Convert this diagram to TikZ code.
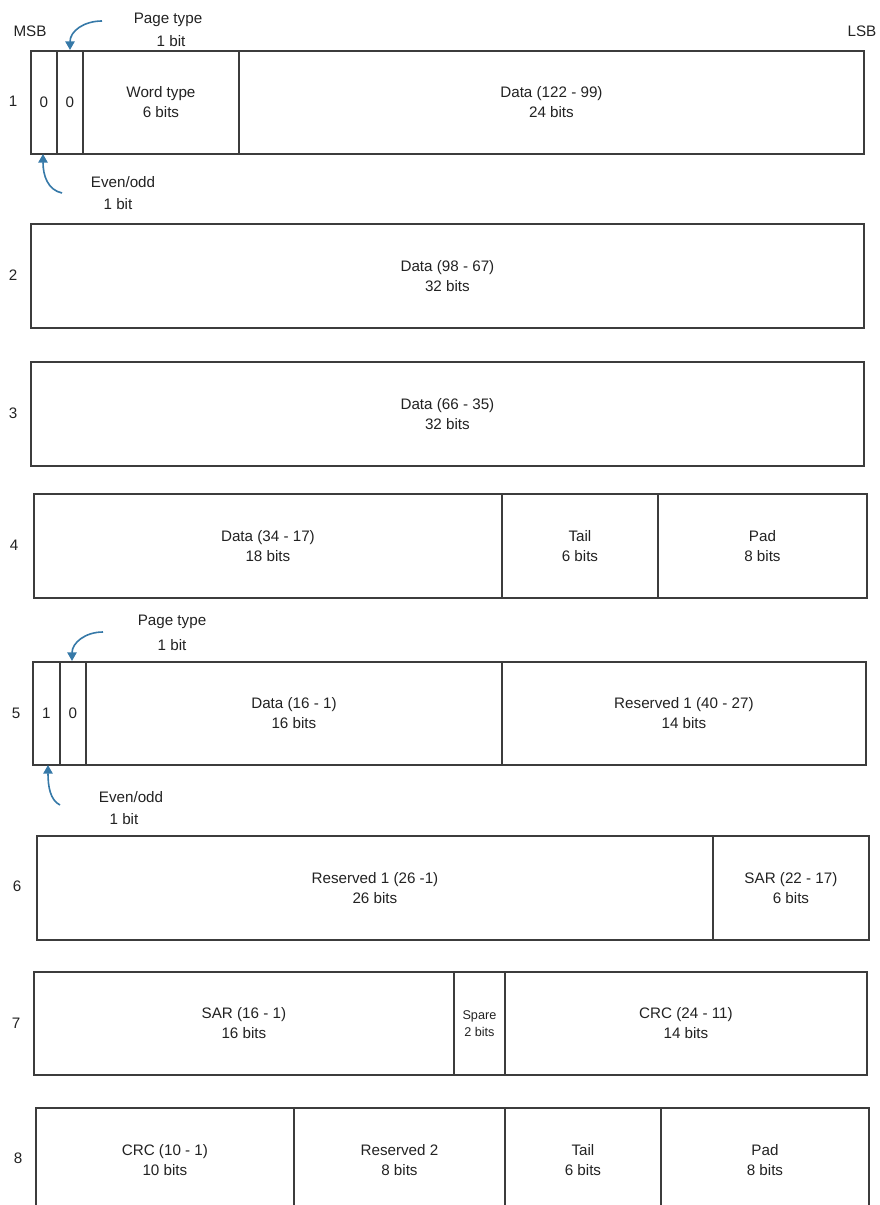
\documentclass[tikz,border=0pt]{standalone}
\usepackage{fontspec}
\setmainfont{Liberation Sans}
\usetikzlibrary{arrows.meta}
\definecolor{linecol}{HTML}{3C3C3C}
\definecolor{txtcol}{HTML}{222222}
\definecolor{arrcol}{HTML}{3679A8}
\tikzset{
  cellbox/.style={draw=linecol, line width=1.4pt, inner sep=0pt, anchor=north west, align=center, text=txtcol, font=\fontsize{11.4}{15}\selectfont},
  lbl/.style={inner sep=0pt, text=txtcol, font=\fontsize{11.4}{15}\selectfont, align=center},
  arr/.style={draw=arrcol, line width=1.2pt, -{Triangle[length=6.5pt,width=7pt]}, arrcol}
}
\newcommand\cell[6]{\node[cellbox, minimum width={(#4-#2)*0.75pt}, minimum height={(#5-#3)*0.75pt}] (#1) at (#2,#3) {#6};}
\begin{document}
\begin{tikzpicture}[x=0.75pt,y=-0.75pt]
\useasboundingbox (0,0) rectangle (880,1205);
% header
\node[lbl] (msb) at (30,31) {MSB};
\node[lbl] (lsb) at (862,31) {LSB};
\node[lbl] (pt1) at (168,20) {Page type};
\node[lbl] (pt1b) at (171,41) {1 bit};
\node[lbl] (eo1) at (123,182) {Even/odd};
\node[lbl] (eo1b) at (118,204) {1 bit};
% row 1
\node[lbl] (r1) at (13,101) {1};
\cell{r1a}{30}{50}{56}{153}{0}
\cell{r1b}{56}{50}{82}{153}{0}
\cell{r1c}{82}{50}{238}{153}{Word type\\6 bits}
\cell{r1d}{238}{50}{863}{153}{Data (122 - 99)\\24 bits}
\coordinate (pt1s) at (102,21);
\coordinate (pt1e) at (70,50);
\draw[arr] (pt1s) .. controls (84,21) and (70,31) .. (pt1e);
\coordinate (eo1s) at (62,193);
\coordinate (eo1e) at (43,154);
\draw[arr] (eo1s) .. controls (48,190) and (43,176) .. (eo1e);
% row 2
\node[lbl] (r2) at (13,275) {2};
\cell{r2a}{30}{223}{863}{327}{Data (98 - 67)\\32 bits}
% row 3
\node[lbl] (r3) at (13,413) {3};
\cell{r3a}{30}{361}{863}{465}{Data (66 - 35)\\32 bits}
% row 4
\node[lbl] (r4) at (14,545) {4};
\cell{r4a}{33}{493}{501}{597}{Data (34 - 17)\\18 bits}
\cell{r4b}{501}{493}{657}{597}{Tail\\6 bits}
\cell{r4c}{657}{493}{866}{597}{Pad\\8 bits}
% row 5
\node[lbl] (pt5) at (172,622) {Page type};
\node[lbl] (pt5b) at (172,645) {1 bit};
\node[lbl] (eo5) at (131,797) {Even/odd};
\node[lbl] (eo5b) at (124,819) {1 bit};
\node[lbl] (r5) at (16,713) {5};
\cell{r5a}{32}{661}{59}{764}{1}
\cell{r5b}{59}{661}{85}{764}{0}
\cell{r5c}{85}{661}{501}{764}{Data (16 - 1)\\16 bits}
\cell{r5d}{501}{661}{865}{764}{Reserved 1 (40 - 27)\\14 bits}
\coordinate (pt5s) at (103,632);
\coordinate (pt5e) at (72,661);
\draw[arr] (pt5s) .. controls (85,632) and (72,643) .. (pt5e);
\coordinate (eo5s) at (60,805);
\coordinate (eo5e) at (48,765);
\draw[arr] (eo5s) .. controls (50,800) and (48,786) .. (eo5e);
% row 6
\node[lbl] (r6) at (17,886) {6};
\cell{r6a}{36}{835}{712}{939}{Reserved 1 (26 -1)\\26 bits}
\cell{r6b}{712}{835}{868}{939}{SAR (22 - 17)\\6 bits}
% row 7
\node[lbl] (r7) at (16,1023) {7};
\cell{r7a}{33}{971}{453}{1074}{SAR (16 - 1)\\16 bits}
\node[cellbox, minimum width={(504-453)*0.75pt}, minimum height={(1074-971)*0.75pt}, font=\fontsize{9.5}{13}\selectfont] (r7b) at (453,971) {Spare\\2 bits};
\cell{r7c}{504}{971}{866}{1074}{CRC (24 - 11)\\14 bits}
% row 8
\node[lbl] (r8) at (18,1158) {8};
\cell{r8a}{35}{1107}{293}{1211}{CRC (10 - 1)\\10 bits}
\cell{r8b}{293}{1107}{504}{1211}{Reserved 2\\8 bits}
\cell{r8c}{504}{1107}{660}{1211}{Tail\\6 bits}
\cell{r8d}{660}{1107}{868}{1211}{Pad\\8 bits}
\end{tikzpicture}
\end{document}
